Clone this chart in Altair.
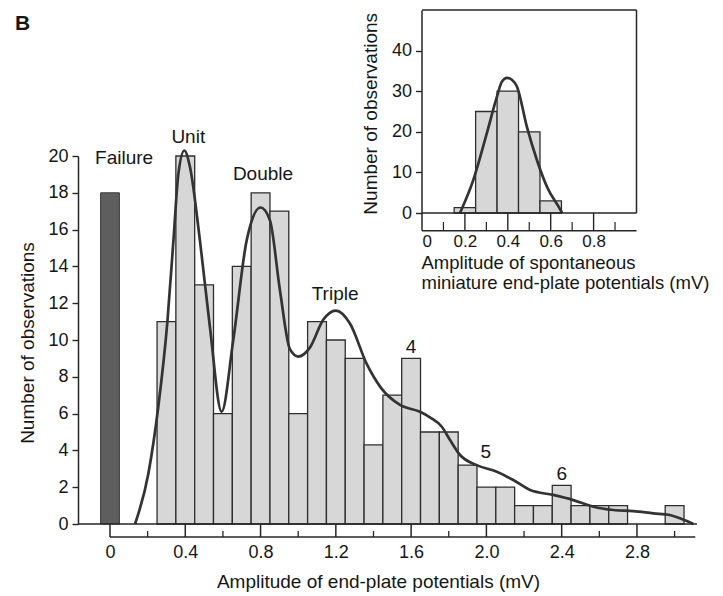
import altair as alt
import pandas as pd

FONT = "Liberation Sans"
TXT = "#161616"
AX = "#262626"

# ---------------- main histogram ----------------
bin_centers = [0.3, 0.4, 0.5, 0.6, 0.7, 0.8, 0.9, 1.0, 1.1, 1.2, 1.3, 1.4, 1.5,
               1.6, 1.7, 1.8, 1.9, 2.0, 2.1, 2.2, 2.3, 2.4, 2.5, 2.6, 2.7, 2.8, 2.9, 3.0]
bin_counts = [11, 20, 13, 6, 14, 18, 17, 6, 11, 10, 9, 4.3, 7,
              9, 5, 5, 3.2, 2, 2, 1, 1, 2.1, 1, 1, 1, 0, 0, 1]
bin_width = 0.1

failure_center = [0.0]
failure_count = [18]

curve_x = [0.133, 0.204, 0.257, 0.305, 0.337, 0.363, 0.395, 0.425, 0.478, 0.531, 0.593,
           0.655, 0.726, 0.80, 0.85, 0.903, 0.956, 1.0, 1.063, 1.133, 1.20, 1.275, 1.364,
           1.44, 1.541, 1.647, 1.70, 1.762, 1.807, 1.86, 1.948, 2.055, 2.143, 2.232, 2.355,
           2.462, 2.568, 2.674, 2.78, 2.887, 2.975, 3.028, 3.10]
curve_y = [0, 2.75, 6.4, 11.0, 15.4, 19.0, 20.3, 19.4, 15.4, 10.7, 6.1,
           10.0, 15.4, 17.2, 16.5, 12.7, 9.5, 9.1, 9.6, 11.1, 11.6, 10.9, 8.7,
           7.4, 6.47, 6.1, 5.8, 5.3, 4.56, 3.75, 3.2, 2.84, 2.39, 1.85, 1.58,
           1.30, 0.94, 0.76, 0.7, 0.58, 0.49, 0.31, 0]

ann_text = ["Failure", "Unit", "Double", "Triple", "4", "5", "6"]
ann_x = [0.075, 0.416, 0.813, 1.196, 1.60, 1.997, 2.40]
ann_y = [19.57, 20.7, 18.7, 12.17, 9.31, 3.57, 2.39]

x_major = [0.0, 0.4, 0.8, 1.2, 1.6, 2.0, 2.4, 2.8]
x_minor = [0.2, 0.6, 1.0, 1.4, 1.8, 2.2, 2.6, 3.0]
y_ticks = [0, 2, 4, 6, 8, 10, 12, 14, 16, 18, 20]
x_domain = [-0.17, 3.119]
ruler_end = [3.11]

# ---------------- inset ----------------
inset_centers = [0.2, 0.3, 0.4, 0.5, 0.6]
inset_counts = [1.3, 25, 30, 20, 3]
inset_curve_x = [0.177, 0.239, 0.302, 0.349, 0.372, 0.396, 0.419, 0.443, 0.489, 0.536, 0.583, 0.646, 0.653]
inset_curve_y = [0, 8.1, 19.6, 28.6, 32.3, 33.3, 32.8, 31.1, 21.2, 13.0, 6.4, 0.7, 0]
inset_x_major = [0.2, 0.4, 0.6, 0.8]
inset_x_minor = [0.1, 0.3, 0.5, 0.7, 0.9]
inset_x_labels = [0.0, 0.2, 0.4, 0.6, 0.8]
inset_y_ticks = [0, 10, 20, 30, 40]
inset_x_domain = [0, 1.0]
inset_y_domain = [0, 50]

W, H = 619, 368
LBL = "datum.value == 0 ? '0' : format(datum.value, '.1f')"

# ---------- scales / axes ----------
xs = alt.Scale(domain=x_domain, nice=False, zero=False)
ys = alt.Scale(domain=[0, 20], nice=False, zero=False)
X_AX = alt.Axis(values=x_major, labelExpr=LBL, domain=False, ticks=False, grid=False,
                offset=13, labelPadding=6, labelFontSize=18, labelFlush=False, labelOverlap=False,
                title="Amplitude of end-plate potentials (mV)", titleFontSize=19,
                titleX=300, titleY=50, titleAlign="center", titleBaseline="alphabetic")
Y_AX = alt.Axis(values=y_ticks, tickSize=6, labelPadding=4, labelFontSize=18, grid=False,
                labelOverlap=False,
                title="Number of observations", titleFontSize=19, titleAngle=270,
                titleX=-44.7, titleY=186.5, titleAlign="center", titleBaseline="alphabetic")

ixs = alt.Scale(domain=inset_x_domain, range=[344, 558.5], nice=False, zero=False)
iys = alt.Scale(domain=inset_y_domain, range=[57, -146], nice=False, zero=False)
IX_AX = alt.Axis(orient="bottom", values=inset_x_labels, labelExpr=LBL, domain=False, ticks=False,
                 grid=False, offset=-293.3, labelPadding=3, labelFontSize=17, labelFlush=True,
                 labelOverlap=False,
                 title=["Amplitude of spontaneous", "miniature end-plate potentials (mV)"],
                 titleFontSize=18.5, titleX=343, titleY=37.3, titleAlign="left",
                 titleBaseline="alphabetic", titleLineHeight=20)
IY_AX = alt.Axis(orient="left", values=inset_y_ticks, offset=-343.5, tickSize=6, labelPadding=4,
                 labelFontSize=18, grid=False, labelOverlap=False,
                 title="Number of observations", titleFontSize=19, titleAngle=270,
                 titleX=-44.8, titleY=-42.7, titleAlign="center", titleBaseline="alphabetic")

def X(f):
    return alt.X(f, type="quantitative", scale=xs, axis=X_AX)

def Y(f):
    return alt.Y(f, type="quantitative", scale=ys, axis=Y_AX)

def IX(f):
    return alt.X(f, type="quantitative", scale=ixs, axis=IX_AX)

def IY(f):
    return alt.Y(f, type="quantitative", scale=iys, axis=IY_AX)

# ---------- main layers ----------
hist_df = pd.DataFrame({"c": bin_centers, "n": bin_counts})
hist_df = hist_df[hist_df["n"] > 0]
bars = alt.Chart(hist_df).transform_calculate(
    lo=f"datum.c - {bin_width/2}", hi=f"datum.c + {bin_width/2}", base="0"
).mark_rect(fill="#d7d7d7", stroke="#2e2e2e", strokeWidth=1.3).encode(
    x=X("lo"), x2="hi", y=Y("n"), y2="base")

fail = alt.Chart(pd.DataFrame({"c": failure_center, "n": failure_count})).transform_calculate(
    lo=f"datum.c - {bin_width/2}", hi=f"datum.c + {bin_width/2}", base="0"
).mark_rect(fill="#5e5e5e", stroke="#3a3a3a", strokeWidth=1).encode(
    x=X("lo"), x2="hi", y=Y("n"), y2="base")

curve = alt.Chart(pd.DataFrame({"x": curve_x, "y": curve_y})).mark_line(
    interpolate="monotone", color="#333333", strokeWidth=2.7).encode(x=X("x"), y=Y("y"))

base_df = pd.DataFrame({"a": [x_domain[0]], "b": [x_domain[1]], "y": [0]})
baseline = alt.Chart(base_df).mark_rule(color=AX, strokeWidth=1.5).encode(
    x=X("a"), x2="b", y=Y("y"))

ruler_line = alt.Chart(pd.DataFrame({"a": [0.0], "b": ruler_end})).mark_rule(
    color=AX, strokeWidth=1.5).encode(x=X("a"), x2="b", y=alt.value(H + 13))
ruler_major = alt.Chart(pd.DataFrame({"v": x_major})).mark_rule(color=AX, strokeWidth=1.5).encode(
    x=X("v"), y=alt.value(H), y2=alt.value(H + 13))
ruler_minor = alt.Chart(pd.DataFrame({"v": x_minor})).mark_rule(color=AX, strokeWidth=1.3).encode(
    x=X("v"), y=alt.value(H + 7), y2=alt.value(H + 13))

ann = alt.Chart(pd.DataFrame({"t": ann_text, "x": ann_x, "y": ann_y})).mark_text(
    font=FONT, fontSize=19, color=TXT, align="center", baseline="alphabetic").encode(
    x=X("x"), y=Y("y"), text="t")

panel = alt.Chart(pd.DataFrame({"t": ["B"]})).mark_text(
    font=FONT, fontSize=21, fontWeight="bold", color=TXT, align="left", baseline="alphabetic"
).encode(x=alt.value(-63), y=alt.value(-126), text="t")

main = alt.layer(bars, fail, curve, baseline, ruler_line, ruler_major, ruler_minor, ann, panel)

# ---------- inset layers ----------
ibars = alt.Chart(pd.DataFrame({"c": inset_centers, "n": inset_counts})).transform_calculate(
    lo=f"datum.c - {bin_width/2}", hi=f"datum.c + {bin_width/2}", base="0"
).mark_rect(fill="#d7d7d7", stroke="#2e2e2e", strokeWidth=1.3).encode(
    x=IX("lo"), x2="hi", y=IY("n"), y2="base")
icurve = alt.Chart(pd.DataFrame({"x": inset_curve_x, "y": inset_curve_y})).mark_line(
    interpolate="monotone", color="#333333", strokeWidth=2.7).encode(x=IX("x"), y=IY("y"))

frame_h = alt.Chart(pd.DataFrame({"a": [inset_x_domain[0]] * 2, "b": [inset_x_domain[1]] * 2,
                                  "y": inset_y_domain})).mark_rule(color=AX, strokeWidth=1.5).encode(
    x=IX("a"), x2="b", y=IY("y"))
frame_v = alt.Chart(pd.DataFrame({"x": [inset_x_domain[1]], "a": [inset_y_domain[0]],
                                  "b": [inset_y_domain[1]]})).mark_rule(color=AX, strokeWidth=1.5).encode(
    x=IX("x"), y=IY("a"), y2="b")
iruler_line = alt.Chart(pd.DataFrame({"a": [inset_x_domain[0]], "b": [inset_x_domain[1]]})).mark_rule(
    color=AX, strokeWidth=1.5).encode(x=IX("a"), x2="b", y=alt.value(74.7))
iruler_left = alt.Chart(pd.DataFrame({"v": [inset_x_domain[0]]})).mark_rule(
    color=AX, strokeWidth=1.5).encode(x=IX("v"), y=alt.value(57), y2=alt.value(74.7))
iruler_major = alt.Chart(pd.DataFrame({"v": inset_x_major})).mark_rule(color=AX, strokeWidth=1.4).encode(
    x=IX("v"), y=alt.value(57), y2=alt.value(74.7))
iruler_minor = alt.Chart(pd.DataFrame({"v": inset_x_minor})).mark_rule(color=AX, strokeWidth=1.2).encode(
    x=IX("v"), y=alt.value(66), y2=alt.value(74.7))

inset = alt.layer(ibars, icurve, frame_h, frame_v, iruler_line, iruler_left, iruler_major, iruler_minor)

chart = alt.layer(main, inset).resolve_scale(x="independent", y="independent").properties(
    width=W, height=H,
    autosize=alt.AutoSizeParams(type="none"),
    padding={"left": 70, "top": 148, "right": 18, "bottom": 72},
    background="white",
).configure_view(stroke=None).configure_axis(
    labelFont=FONT, titleFont=FONT, labelColor=TXT, titleColor=TXT,
    domainColor=AX, tickColor=AX, domainWidth=1.5, tickWidth=1.4, titleFontWeight="normal")

chart.save("out.html", embed_options={"renderer": "svg", "actions": False})
